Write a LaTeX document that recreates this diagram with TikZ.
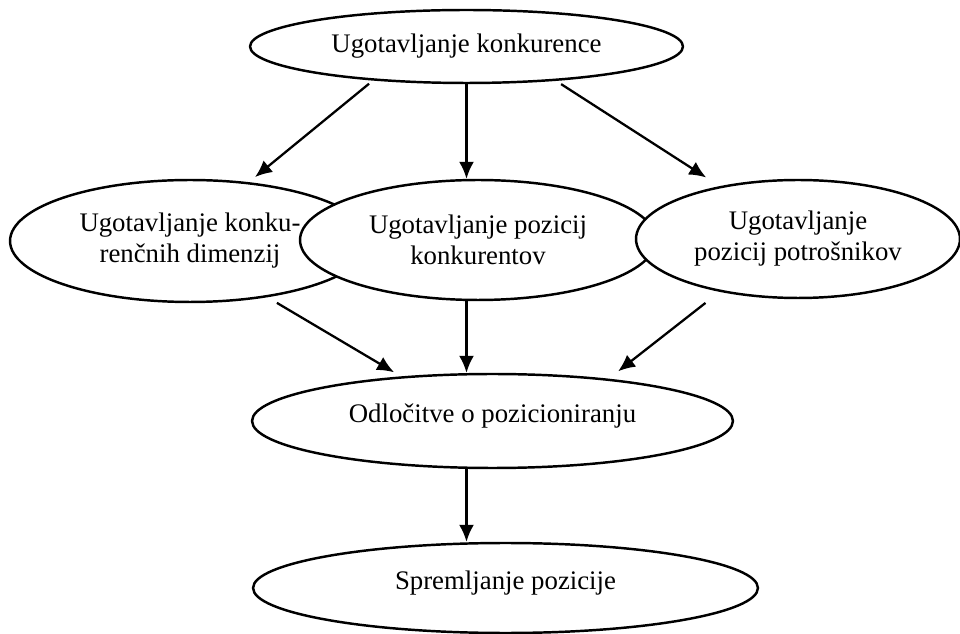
\documentclass[tikz,border=0pt]{standalone}
\usepackage{fontspec}
\setmainfont{Liberation Serif}
\usetikzlibrary{arrows.meta}
\usetikzlibrary{shapes.geometric}

\tikzset{
box/.style={ellipse, draw, fill=white, line width=1.4pt, inner sep=0pt, align=center,
  font=\fontsize{15.25}{17.6}\selectfont},
lowbox/.style={box, text depth=9pt},
arr/.style={-{Latex[length=0.34cm,width=0.3cm]}, line width=1.3pt}
}

\begin{document}
\begin{tikzpicture}[x=0.02cm,y=-0.02cm]
\useasboundingbox (0,0) rectangle (960,634);

\node[box, minimum width=8.66cm, minimum height=1.46cm] (konk) at (466.5,46.5) {Ugotavljanje konkurence};

%%%%%%%%%%   middle row
\node[box, minimum width=7.2cm, minimum height=2.44cm] (dim) at (190,241) {Ugotavljanje konku-\\ren\v{c}nih dimenzij};
\node[box, minimum width=7.12cm, minimum height=2.4cm] (poz) at (478,240) {Ugotavljanje pozicij\\konkurentov};
\node[box, minimum width=6.48cm, minimum height=2.36cm] (potr) at (798,239) {Ugotavljanje\\pozicij potro\v{s}nikov};

%%%%%%%%%%   bottom
\node[lowbox, minimum width=9.62cm, minimum height=1.88cm] (odl) at (492.5,421) {Odlo\v{c}itve o pozicioniranju};
\node[lowbox, minimum width=10.1cm, minimum height=1.8cm] (spr) at (505.5,588) {Spremljanje pozicije};

\draw[arr, shorten <=0.1cm, shorten >=0.16cm] (konk.200) -- (dim.45.5);
\draw[arr] (konk.south) -- (konk.south |- poz.north);
\draw[arr, shorten <=0.12cm, shorten >=0.32cm] (konk.339.7) -- (potr.146);

\draw[arr, shorten <=0.22cm, shorten >=0.16cm] (dim.324.5) -- (odl.154.3);
\draw[arr] (konk.south |- poz.south) -- (konk.south |- odl.north);
\draw[arr, shorten <=0.36cm, shorten >=0.24cm] (potr.214.8) -- (odl.20.9);

\draw[arr] (konk.south |- odl.south) -- (konk.south |- spr.north);
\end{tikzpicture}
\end{document}
